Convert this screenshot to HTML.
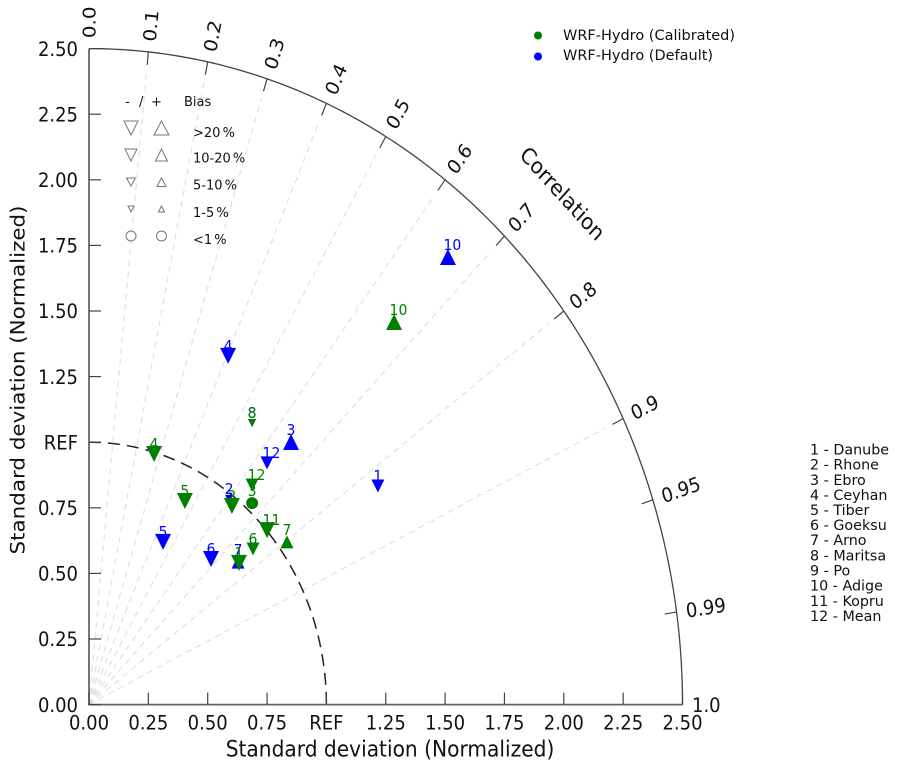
<!DOCTYPE html>
<html lang="en">
<head>
<meta charset="utf-8">
<title>Taylor diagram</title>
<style>
html,body{margin:0;padding:0;background:#fff;width:898px;height:761px;overflow:hidden}
svg{display:block;filter:blur(0.35px)}
text{font-family:"DejaVu Sans","Liberation Sans",sans-serif;fill:#111}
</style>
</head>
<body>
<svg id="chart" xmlns="http://www.w3.org/2000/svg" width="898" height="761" viewBox="0 0 898 761">
  <g id="grid"></g>
  <g id="axes"></g>
  <g id="series"></g>

  <text transform="translate(390,756.5) scale(1,1.105)" text-anchor="middle" font-size="20.2">Standard deviation (Normalized)</text>
  <text transform="translate(24.5,380) scale(1,1.105) rotate(-90)" text-anchor="middle" font-size="19.4">Standard deviation (Normalized)</text>
  <text transform="translate(562.5,193.5) scale(1,1.105) rotate(45)" text-anchor="middle" y="7" font-size="20">Correlation</text>

  <g>
    <circle cx="538" cy="35.5" r="4" fill="#008000"/>
    <text x="563" y="40" font-size="14.5">WRF-Hydro (Calibrated)</text>
    <circle cx="538" cy="56.5" r="4" fill="#0000ff"/>
    <text x="563" y="60" font-size="14.5">WRF-Hydro (Default)</text>
  </g>

  <g font-size="13" stroke-width="1">
    <text x="125" y="106">-</text>
    <text x="139" y="106">/</text>
    <text x="151" y="106">+</text>
    <text x="184" y="106">Bias</text>
    <text x="193" y="137" word-spacing="-2">&gt;20 %</text>
    <text x="193" y="162.5" word-spacing="-2">10-20 %</text>
    <text x="193" y="189.5" word-spacing="-2">5-10 %</text>
    <text x="193" y="217" word-spacing="-2">1-5 %</text>
    <text x="193" y="244" word-spacing="-2">&lt;1 %</text>
    <g fill="none" stroke="#777">
      <polygon points="124,121 138,121 131,135"/>
      <polygon points="161.5,121 154,135 169,135"/>
      <polygon points="125,149 137,149 131,161"/>
      <polygon points="161.5,149 155.5,161 167.5,161"/>
      <polygon points="126.5,178 135.5,178 131,186"/>
      <polygon points="161.5,178 157,186.5 166,186.5"/>
      <polygon points="128,206 134,206 131,212"/>
      <polygon points="161.5,206 158.5,212 164.5,212"/>
      <circle cx="131" cy="236" r="5"/>
      <circle cx="161.5" cy="236" r="5"/>
    </g>
  </g>

  <g font-size="14.3">
    <text x="810" y="454.5">1 - Danube</text>
    <text x="810" y="469.5">2 - Rhone</text>
    <text x="810" y="484.8">3 - Ebro</text>
    <text x="810" y="499.8">4 - Ceyhan</text>
    <text x="810" y="515">5 - Tiber</text>
    <text x="810" y="530">6 - Goeksu</text>
    <text x="810" y="545.2">7 - Arno</text>
    <text x="810" y="560.4">8 - Maritsa</text>
    <text x="810" y="575.5">9 - Po</text>
    <text x="810" y="590.6">10 - Adige</text>
    <text x="810" y="605.8">11 - Kopru</text>
    <text x="810" y="621">12 - Mean</text>
  </g>
</svg>

<script>
// ---- data -----------------------------------------------------------
const stdTickValues = [0, 0.25, 0.5, 0.75, 1, 1.25, 1.5, 1.75, 2, 2.25, 2.5];
const xTickLabels = ['0.00', '0.25', '0.50', '0.75', 'REF', '1.25', '1.50', '1.75', '2.00', '2.25', '2.50'];
const yTickLabels = ['0.00', '0.25', '0.50', '0.75', 'REF', '1.25', '1.50', '1.75', '2.00', '2.25', '2.50'];
const corrTickValues = [0, 0.1, 0.2, 0.3, 0.4, 0.5, 0.6, 0.7, 0.8, 0.9, 0.95, 0.99, 1];
const corrTickLabels = ['0.0', '0.1', '0.2', '0.3', '0.4', '0.5', '0.6', '0.7', '0.8', '0.9', '0.95', '0.99', '1.0'];
const corrGridValues = [0.1, 0.2, 0.3, 0.4, 0.5, 0.6, 0.7, 0.8, 0.9];
const stdMax = 2.5;
const refStd = 1;

const riverIds = [1, 2, 3, 4, 5, 6, 7, 8, 9, 10, 11, 12];
// x / y components of normalized standard deviation; bias in percent (estimated from the marker class)
const defaultX = [1.217, 0.590, 0.851, 0.586, 0.312, 0.514, 0.628, 0.687, null, 1.512, null, 0.750];
const defaultY = [0.833, 0.784, 1.001, 1.329, 0.620, 0.555, 0.543, 1.073, null, 1.706, null, 0.921];
const defaultBias = [-15, -3, 25, -25, -25, -25, 15, -3, null, 25, null, -15];
const calibratedX = [0.632, 0.602, 0.687, 0.274, 0.404, 0.691, 0.834, 0.687, null, 1.285, 0.750, 0.687];
const calibratedY = [0.540, 0.757, 0.768, 0.955, 0.776, 0.593, 0.620, 1.073, null, 1.458, 0.665, 0.837];
const calibratedBias = [-25, -25, 0.5, -25, -25, -15, 15, -3, null, 25, -25, -15];

// ---- axis functions --------------------------------------------------
const X0 = 89, Y0 = 704.6, XU = 237.4, YU = 262.4, SY = 1.105;
const px = v => X0 + v * XU;
const py = v => Y0 - v * YU;
const SVGNS = 'http://www.w3.org/2000/svg';
function el(parent, tag, attrs, text) {
  const e = document.createElementNS(SVGNS, tag);
  for (const k in attrs) e.setAttribute(k, attrs[k]);
  if (text !== undefined) e.textContent = text;
  parent.appendChild(e);
  return e;
}
function markerSize(b) {
  const a = Math.abs(b);
  if (a > 20) return 16;
  if (a > 10) return 13;
  if (a > 5) return 9;
  if (a >= 1) return 8;
  return 0;
}

const grid = document.getElementById('grid');
const axes = document.getElementById('axes');
const series = document.getElementById('series');

// gridlines
corrGridValues.forEach(c => {
  const s = Math.sqrt(1 - c * c);
  const line = el(grid, 'line', {x1: px(0), y1: py(0), x2: px(c * 2.42), y2: py(s * 2.42), stroke: '#dedede', 'stroke-width': 1.1, 'stroke-dasharray': '6 5'});
  
  
});

// REF arc
const refPts = [];
for (let a = 0; a <= 90; a += 1) {
  const t = a * Math.PI / 180;
  refPts.push(px(refStd * Math.cos(t)).toFixed(2) + ',' + py(refStd * Math.sin(t)).toFixed(2));
}
const refArc = el(axes, 'polyline', {points: refPts.reverse().join(' '), fill: 'none', stroke: '#222', 'stroke-width': 1.5, 'stroke-dasharray': '12 7'});



// outer arc
const outerPts = [];
for (let a = 0; a <= 90; a += 0.5) {
  const t = a * Math.PI / 180;
  outerPts.push(px(stdMax * Math.cos(t)).toFixed(2) + ',' + py(stdMax * Math.sin(t)).toFixed(2));
}
const outerArc = el(axes, 'polyline', {points: outerPts.join(' '), fill: 'none', stroke: '#444', 'stroke-width': 1.3});



// spines
const leftSpine = el(axes, 'line', {x1: px(0), y1: py(stdMax), x2: px(0), y2: py(0), stroke: '#666', 'stroke-width': 1.8});


const bottomSpine = el(axes, 'line', {x1: px(0) - 0.9, y1: py(0), x2: px(stdMax), y2: py(0), stroke: '#666', 'stroke-width': 1.8});



// standard deviation ticks and labels
stdTickValues.forEach((v, i) => {
  const xt = el(axes, 'line', {x1: px(v), y1: py(0), x2: px(v), y2: py(0) - 12, stroke: '#444', 'stroke-width': 1.2});
  
  
  const yt = el(axes, 'line', {x1: px(0), y1: py(v), x2: px(0) + 12, y2: py(v), stroke: '#444', 'stroke-width': 1.2});
  
  
  const xl = el(axes, 'text', {transform: 'translate(' + px(v) + ',729.5) scale(1,' + SY + ')', 'text-anchor': 'middle', 'font-size': 18}, xTickLabels[i]);
  
  
  const yl = el(axes, 'text', {transform: 'translate(78,' + (py(v) + 7.2) + ') scale(1,' + SY + ')', 'text-anchor': 'end', 'font-size': 18}, yTickLabels[i]);
  
  
});

// correlation ticks and labels
corrTickValues.forEach((c, i) => {
  const s = Math.sqrt(1 - c * c);
  const deg = Math.acos(c) * 180 / Math.PI;
  if (c > 0 && c < 1) {
    const t = el(axes, 'line', {x1: px(c * stdMax), y1: py(s * stdMax), x2: px(c * 2.45), y2: py(s * 2.45), stroke: '#444', 'stroke-width': 1.2});
    
    
  }
  const lab = el(axes, 'text', {transform: 'translate(' + px(c * 2.54) + ',' + py(s * 2.54) + ') scale(1,' + SY + ') rotate(' + (-deg) + ')', y: 6.5, 'font-size': 18}, corrTickLabels[i]);
  
  
});

// markers
function drawSeries(name, xs, ys, bias, color) {
  riverIds.forEach((id, i) => {
    if (xs[i] === null || ys[i] === null) return;
    const cx = px(xs[i]), cy = py(ys[i]), b = bias[i];
    const w = markerSize(b);
    let mark;
    if (w === 0) {
      mark = el(series, 'circle', {cx: cx, cy: cy, r: 6, fill: color});
    } else {
      const dir = b > 0 ? -1 : 1;
      const pts = [
        cx + ',' + (cy + dir * w / 2),
        (cx - w / 2) + ',' + (cy - dir * w / 2),
        (cx + w / 2) + ',' + (cy - dir * w / 2)
      ].join(' ');
      mark = el(series, 'polygon', {points: pts, fill: color});
    }
    
    
    const dy = b > 0 ? -7 : -5;
    const lab = el(series, 'text', {transform: 'translate(' + (cx - 4.5) + ',' + (cy + dy) + ') scale(1,' + SY + ')', 'font-size': 14, style: 'fill:' + color}, String(id));
    
    
  });
}
drawSeries('default', defaultX, defaultY, defaultBias, '#0000ff');
drawSeries('calibrated', calibratedX, calibratedY, calibratedBias, '#008000');
</script>
</body>
</html>
